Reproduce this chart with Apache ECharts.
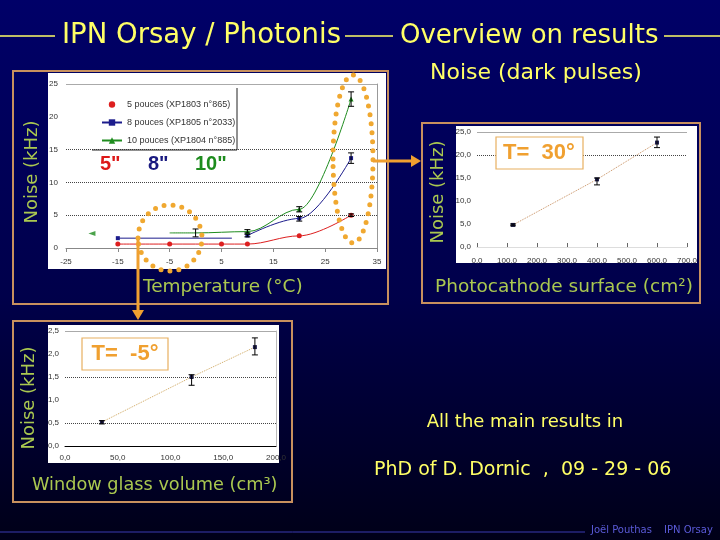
<!DOCTYPE html>
<html><head><meta charset="utf-8">
<script src="https://cdn.jsdelivr.net/npm/echarts@6/dist/echarts.min.js"></script>
<style>html,body{margin:0;padding:0;background:#000050}#c{width:720px;height:540px}</style>
</head><body><div id="c"></div>
<script>
// ---- Chart 1: noise vs temperature ----
var temp5 = [-15, -5, 5, 10, 20, 30];
var noise5 = [0.6, 0.6, 0.6, 0.6, 1.85, 5.0];
var temp8a = [-15, 7];
var noise8a = [1.5, 1.5];
var temp8b = [10, 20, 30];
var noise8b = [1.9, 4.5, 13.7];
var temp10 = [-5, 0, 10, 20, 30];
var noise10 = [2.3, 2.3, 2.5, 5.9, 22.7];
var temp10Lone = [-20];
var noise10Lone = [2.2];
var errX1 = [0, 10, 20, 30, 10, 20, 30, 30];
var errLo1 = [1.7, 2.3, 5.5, 21.6, 1.7, 4.1, 12.9, 4.8];
var errHi1 = [2.9, 2.8, 6.3, 23.8, 2.1, 4.8, 14.5, 5.2];
var xTicks1 = [-25, -15, -5, 5, 15, 25, 35];
var yTicks1 = [0, 5, 10, 15, 20, 25];
var gridDotted1 = [5, 10, 15];
var names1 = ['5 pouces (XP1803 n°865)', '8 pouces (XP1805 n°2033)', '10 pouces (XP1804 n°885)'];
// ---- Chart 2: noise vs photocathode surface, T=30 ----
var surface = [120, 400, 600];
var noise30 = [4.8, 14.7, 22.7];
var errLo2 = [4.6, 13.5, 21.6];
var errHi2 = [5.0, 15.0, 23.9];
var gridDotted2 = [20];
// ---- Chart 3: noise vs window glass volume, T=-5 ----
var volume = [35, 120, 180];
var noiseM5 = [0.52, 1.5, 2.15];
var errLo3 = [0.48, 1.32, 1.98];
var errHi3 = [0.55, 1.55, 2.35];
var gridDotted3 = [0.5, 1.5];

function zip(a, b) { return a.map(function (v, i) { return [v, b[i]]; }); }
function zip3(a, b, c) { return a.map(function (v, i) { return [v, b[i], c[i]]; }); }
function comma(v) { return v.toFixed(1).replace('.', ','); }

function errRender(params, api) {
  var x = api.value(0), lo = api.value(1), hi = api.value(2);
  var p1 = api.coord([x, hi]), p2 = api.coord([x, lo]);
  var w = 3, st = { stroke: '#000', lineWidth: 1 };
  return { type: 'group', children: [
    { type: 'line', shape: { x1: p1[0], y1: p1[1], x2: p2[0], y2: p2[1] }, style: st },
    { type: 'line', shape: { x1: p1[0] - w, y1: p1[1], x2: p1[0] + w, y2: p1[1] }, style: st },
    { type: 'line', shape: { x1: p2[0] - w, y1: p2[1], x2: p2[0] + w, y2: p2[1] }, style: st }
  ] };
}
function mk(vals, top) {
  var d = vals.map(function (v) { return { yAxis: v, lineStyle: { type: 'dotted', color: '#444', width: 1 } }; });
  if (top !== undefined) d.push({ yAxis: top, lineStyle: { type: 'solid', color: '#aaa', width: 1 } });
  return { silent: true, symbol: 'none', label: { show: false }, data: d, animation: false };
}

var GREEN = '#aac850', YEL = '#ffff66', ORANGE = '#f0a030', FONT = 'DejaVu Sans';
var axLab = { color: '#333', fontSize: 8, fontFamily: 'Liberation Sans' };

var chart = echarts.init(document.getElementById('c'), null, { renderer: 'canvas' });
var option = {
  animation: false,
  backgroundColor: new echarts.graphic.LinearGradient(0, 0, 0, 1, [
    { offset: 0, color: '#000068' }, { offset: 0.55, color: '#00004a' }, { offset: 1, color: '#000018' }]),
  grid: [
    { left: 66, top: 84, width: 311, height: 164 },
    { left: 477, top: 132, width: 210, height: 115 },
    { left: 65, top: 331, width: 211, height: 115 }
  ],
  legend: {
    data: [{ name: names1[0], lineStyle: { opacity: 0 } }, { name: names1[1] }, { name: names1[2] }],
    left: 96, top: 95, orient: 'vertical', itemGap: 9, itemWidth: 20, itemHeight: 8,
    textStyle: { color: '#333', fontSize: 9, fontFamily: 'Liberation Sans' }
  },
  xAxis: [
    { gridIndex: 0, type: 'value', min: -25, max: 35, interval: 10,
      axisLine: { lineStyle: { color: '#888' } }, axisTick: { length: 4, lineStyle: { color: '#888' } },
      splitLine: { show: false }, axisLabel: Object.assign({ margin: 10 }, axLab) },
    { gridIndex: 1, type: 'value', min: 0, max: 700, interval: 100,
      axisLine: { lineStyle: { color: '#ddd' } }, axisTick: { inside: true, length: 4, lineStyle: { color: '#666' } },
      splitLine: { show: false }, axisLabel: Object.assign({ margin: 10, formatter: comma }, axLab) },
    { gridIndex: 2, type: 'value', min: 0, max: 200, interval: 50,
      axisLine: { lineStyle: { color: '#000' } }, axisTick: { show: false },
      splitLine: { show: false }, axisLabel: Object.assign({ margin: 8, formatter: comma }, axLab) }
  ],
  yAxis: [
    { gridIndex: 0, type: 'value', min: 0, max: 25, interval: 5, axisLine: { show: false }, axisTick: { show: false },
      splitLine: { show: false }, axisLabel: Object.assign({ margin: 8 }, axLab) },
    { gridIndex: 1, type: 'value', min: 0, max: 25, interval: 5, axisLine: { show: false }, axisTick: { show: false },
      splitLine: { show: false }, axisLabel: Object.assign({ margin: 6, formatter: comma }, axLab) },
    { gridIndex: 2, type: 'value', min: 0, max: 2.5, interval: 0.5, axisLine: { show: false }, axisTick: { show: false },
      splitLine: { show: false }, axisLabel: Object.assign({ margin: 6, formatter: comma }, axLab) },
    { gridIndex: 0, type: 'value', position: 'right', min: 0, max: 25, axisLine: { show: true, lineStyle: { color: '#999' } },
      axisTick: { show: false }, axisLabel: { show: false }, splitLine: { show: false } },
    { gridIndex: 2, type: 'value', position: 'right', min: 0, max: 2.5, axisLine: { show: true, lineStyle: { color: '#bbb' } },
      axisTick: { show: false }, axisLabel: { show: false }, splitLine: { show: false } }
  ],
  series: [
    { name: names1[0], type: 'line', xAxisIndex: 0, yAxisIndex: 0, data: zip(temp5, noise5), smooth: 0.35, smoothMonotone: 'x',
      symbol: 'circle', symbolSize: 5, itemStyle: { color: '#dd1f1f' }, lineStyle: { color: '#dd1f1f', width: 1 },
      markLine: mk(gridDotted1, 25), z: 3 },
    { name: names1[1], type: 'line', xAxisIndex: 0, yAxisIndex: 0, data: zip(temp8b, noise8b), smooth: 0.35, smoothMonotone: 'x',
      symbol: 'rect', symbolSize: 4, itemStyle: { color: '#1c1c8c' }, lineStyle: { color: '#1c1c8c', width: 1 }, z: 4 },
    { name: 'b8flat', type: 'line', xAxisIndex: 0, yAxisIndex: 0, data: zip(temp8a, noise8a),
      symbol: 'rect', symbolSize: function (v, p) { return p.dataIndex === 0 ? 4 : 0; },
      itemStyle: { color: '#1c1c8c' }, lineStyle: { color: '#1c1c8c', width: 1 }, z: 4 },
    { name: names1[2], type: 'line', xAxisIndex: 0, yAxisIndex: 0, data: zip(temp10, noise10), smooth: 0.35, smoothMonotone: 'x',
      symbol: 'triangle', symbolSize: function (v, p) { return p.dataIndex < 2 ? 0 : 5; },
      itemStyle: { color: '#1e8c1e' }, lineStyle: { color: '#1e8c1e', width: 1 }, z: 4 },
    { name: 'g10lone', type: 'scatter', xAxisIndex: 0, yAxisIndex: 0, data: zip(temp10Lone, noise10Lone),
      symbol: 'triangle', symbolRotate: 90, symbolSize: [5, 7], itemStyle: { color: '#1e8c1e' } },
    { name: 'err1', type: 'custom', xAxisIndex: 0, yAxisIndex: 0, data: zip3(errX1, errLo1, errHi1),
      encode: { x: 0, y: [1, 2] }, renderItem: errRender, z: 5 },
    { name: 'T30', type: 'line', xAxisIndex: 1, yAxisIndex: 1, data: zip(surface, noise30),
      symbol: 'rect', symbolSize: 4, itemStyle: { color: '#202050' }, lineStyle: { color: '#c89060', width: 1, type: 'dotted' },
      markLine: mk(gridDotted2, 25) },
    { name: 'err2', type: 'custom', xAxisIndex: 1, yAxisIndex: 1, data: zip3(surface, errLo2, errHi2),
      encode: { x: 0, y: [1, 2] }, renderItem: errRender, z: 5 },
    { name: 'Tm5', type: 'line', xAxisIndex: 2, yAxisIndex: 2, data: zip(volume, noiseM5),
      symbol: 'rect', symbolSize: 4, itemStyle: { color: '#202050' }, lineStyle: { color: '#d0a860', width: 1, type: 'dotted' },
      markLine: mk(gridDotted3, 2.5) },
    { name: 'err3', type: 'custom', xAxisIndex: 2, yAxisIndex: 2, data: zip3(volume, errLo3, errHi3),
      encode: { x: 0, y: [1, 2] }, renderItem: errRender, z: 5 }
  ],
  graphic: [
    // header
    { type: 'line', shape: { x1: 0, y1: 36, x2: 55, y2: 36 }, style: { stroke: YEL, lineWidth: 1.5 } },
    { type: 'line', shape: { x1: 345, y1: 36, x2: 393, y2: 36 }, style: { stroke: YEL, lineWidth: 1.5 } },
    { type: 'line', shape: { x1: 664, y1: 36, x2: 720, y2: 36 }, style: { stroke: YEL, lineWidth: 1.5 } },
    { type: 'text', x: 62, y: 36, style: { text: 'IPN Orsay / Photonis', fill: YEL, font: '27.5px "DejaVu Sans"', textVerticalAlign: 'middle' } },
    { type: 'text', x: 400, y: 36, style: { text: 'Overview on results', fill: YEL, font: '26px "DejaVu Sans"', textVerticalAlign: 'middle' } },
    { type: 'text', x: 430, y: 73, style: { text: 'Noise (dark pulses)', fill: YEL, font: '22px "DejaVu Sans"', textVerticalAlign: 'middle' } },
    // boxes
    { type: 'rect', shape: { x: 13, y: 71, width: 375, height: 233 }, style: { fill: 'rgba(0,0,0,0)', stroke: '#c8905e', lineWidth: 2 }, z: -20 },
    { type: 'rect', shape: { x: 48, y: 73, width: 338, height: 196 }, style: { fill: '#fff' }, z: -19 },
    { type: 'rect', shape: { x: 422, y: 123, width: 278, height: 180 }, style: { fill: 'rgba(0,0,0,0)', stroke: '#c8905e', lineWidth: 2 }, z: -20 },
    { type: 'rect', shape: { x: 456, y: 126, width: 241, height: 137 }, style: { fill: '#fff' }, z: -19 },
    { type: 'rect', shape: { x: 13, y: 321, width: 279, height: 181 }, style: { fill: 'rgba(0,0,0,0)', stroke: '#c8905e', lineWidth: 2 }, z: -20 },
    { type: 'rect', shape: { x: 48, y: 325, width: 231, height: 138 }, style: { fill: '#fff' }, z: -19 },
    // legend border (right, bottom)
    { type: 'polyline', shape: { points: [[237, 88], [237, 150], [92, 150]] }, style: { stroke: '#222', lineWidth: 1 }, z: 10 },
    // axis titles
    { type: 'text', x: 32, y: 172, rotation: Math.PI / 2, style: { text: 'Noise (kHz)', fill: GREEN, font: '18px "' + FONT + '"', textAlign: 'center', textVerticalAlign: 'middle' } },
    { type: 'text', x: 438, y: 192, rotation: Math.PI / 2, style: { text: 'Noise (kHz)', fill: GREEN, font: '18px "' + FONT + '"', textAlign: 'center', textVerticalAlign: 'middle' } },
    { type: 'text', x: 29, y: 398, rotation: Math.PI / 2, style: { text: 'Noise (kHz)', fill: GREEN, font: '18px "' + FONT + '"', textAlign: 'center', textVerticalAlign: 'middle' } },
    { type: 'text', x: 143, y: 287, style: { text: 'Temperature (°C)', fill: GREEN, font: '18.5px "' + FONT + '"', textVerticalAlign: 'middle' } },
    { type: 'text', x: 435, y: 287, style: { text: 'Photocathode surface (cm²)', fill: GREEN, font: '18.5px "' + FONT + '"', textVerticalAlign: 'middle' } },
    { type: 'text', x: 32, y: 485, style: { text: 'Window glass volume (cm³)', fill: GREEN, font: '17.7px "' + FONT + '"', textVerticalAlign: 'middle' } },
    // size labels
    { type: 'text', x: 100, y: 164, style: { text: '5"', fill: '#dd1818', font: 'bold 20px "Liberation Sans"', textVerticalAlign: 'middle' }, z: 10 },
    { type: 'text', x: 148, y: 164, style: { text: '8"', fill: '#1a1a80', font: 'bold 20px "Liberation Sans"', textVerticalAlign: 'middle' }, z: 10 },
    { type: 'text', x: 195, y: 164, style: { text: '10"', fill: '#1e8c1e', font: 'bold 20px "Liberation Sans"', textVerticalAlign: 'middle' }, z: 10 },
    // T boxes
    { type: 'rect', shape: { x: 496, y: 137, width: 87, height: 32 }, style: { fill: '#fff', stroke: '#e8b060', lineWidth: 1.2 }, z: 10 },
    { type: 'text', x: 539, y: 153, style: { text: 'T=  30°', fill: ORANGE, font: 'bold 22px "Liberation Sans"', textAlign: 'center', textVerticalAlign: 'middle' }, z: 11 },
    { type: 'rect', shape: { x: 82, y: 338, width: 86, height: 32 }, style: { fill: '#fff', stroke: '#e8b060', lineWidth: 1.2 }, z: 10 },
    { type: 'text', x: 125, y: 354, style: { text: 'T=  -5°', fill: ORANGE, font: 'bold 22px "Liberation Sans"', textAlign: 'center', textVerticalAlign: 'middle' }, z: 11 },
    // dotted ellipses
    { type: 'ellipse', shape: { cx: 170, cy: 238, rx: 32, ry: 33 }, style: { fill: 'none', stroke: '#f0a830', lineWidth: 5, lineDash: [0, 9], lineCap: 'round' }, z: 20 },
    { type: 'ellipse', shape: { cx: 353, cy: 159, rx: 20, ry: 84 }, style: { fill: 'none', stroke: '#f0a830', lineWidth: 5, lineDash: [0, 9], lineCap: 'round' }, z: 20 },
    // arrows
    { type: 'line', shape: { x1: 373, y1: 161, x2: 412, y2: 161 }, style: { stroke: '#f0a030', lineWidth: 3 }, z: 20 },
    { type: 'polygon', shape: { points: [[411, 155], [421, 161], [411, 167]] }, style: { fill: '#f0a030' }, z: 20 },
    { type: 'line', shape: { x1: 138, y1: 240, x2: 138, y2: 311 }, style: { stroke: '#f0a030', lineWidth: 3 }, z: 20 },
    { type: 'polygon', shape: { points: [[132, 310], [138, 320], [144, 310]] }, style: { fill: '#f0a030' }, z: 20 },
    // right side texts
    { type: 'text', x: 525, y: 422, style: { text: 'All the main results in', fill: YEL, font: '18px "' + FONT + '"', textAlign: 'center', textVerticalAlign: 'middle' } },
    { type: 'text', x: 374, y: 470, style: { text: 'PhD of D. Dornic  ,  09 - 29 - 06', fill: YEL, font: '19px "' + FONT + '"', textVerticalAlign: 'middle' } },
    // footer
    { type: 'line', shape: { x1: 0, y1: 532, x2: 585, y2: 532 }, style: { stroke: '#3a3ab0', lineWidth: 1 } },
    { type: 'text', x: 591, y: 530, style: { text: 'Joël Pouthas', fill: '#5a5ad8', font: '10px "' + FONT + '"', textVerticalAlign: 'middle' } },
    { type: 'text', x: 664, y: 530, style: { text: 'IPN Orsay', fill: '#5a5ad8', font: '10px "' + FONT + '"', textVerticalAlign: 'middle' } }
  ]
};
chart.setOption(option);
</script></body></html>
